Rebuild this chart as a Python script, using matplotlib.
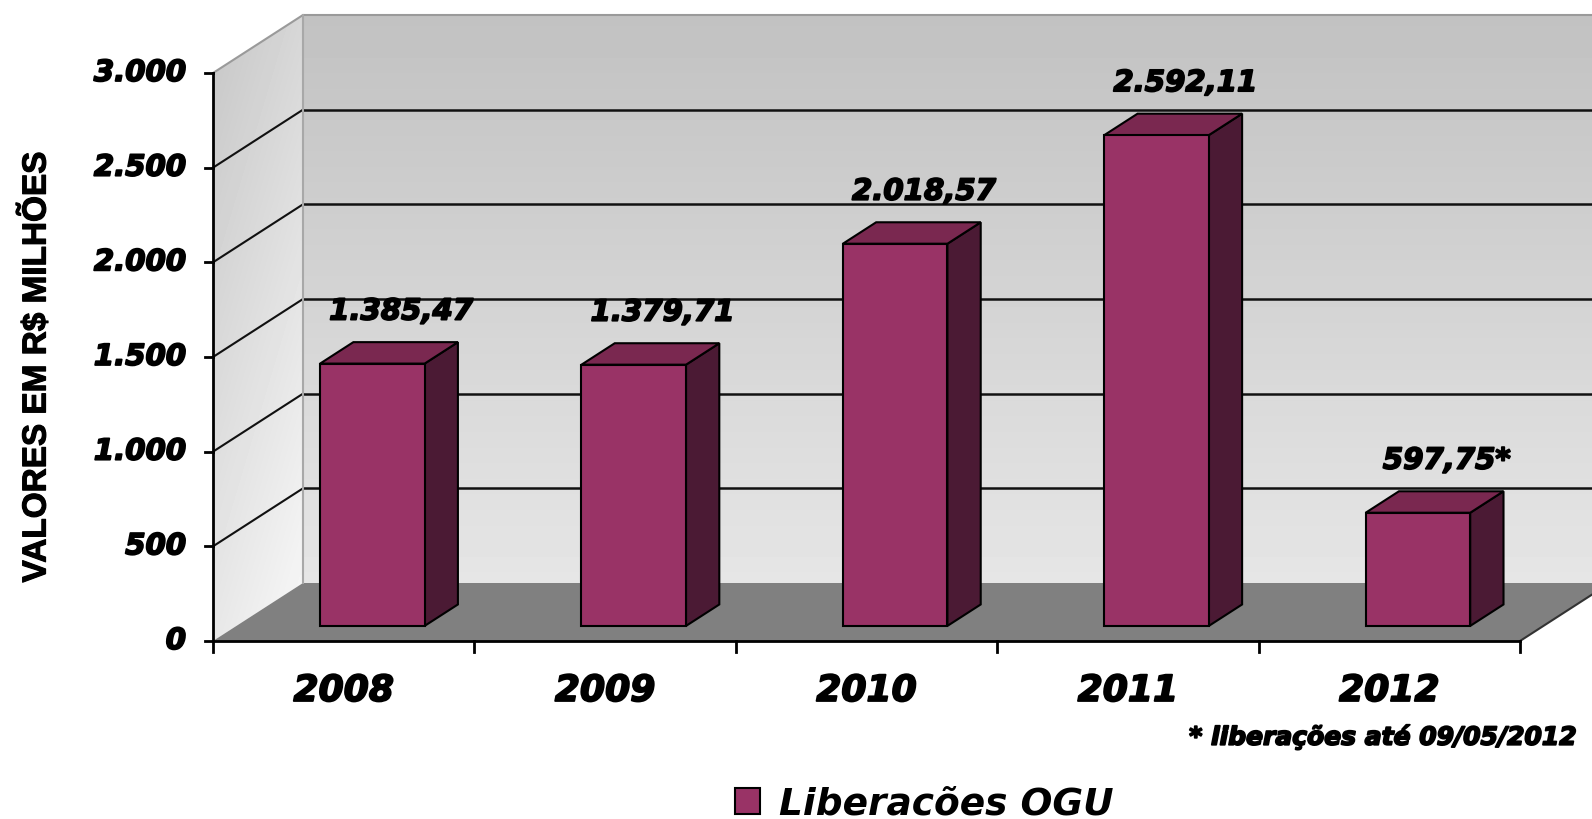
import numpy as np
import matplotlib.pyplot as plt
import matplotlib.patheffects as pe
from matplotlib.patches import Polygon, Patch

years = ['2008', '2009', '2010', '2011', '2012']
values = [1385.47, 1379.71, 2018.57, 2592.11, 597.75]
marks = ['', '', '', '', '*']
yticks = [0, 500, 1000, 1500, 2000, 2500, 3000]
ylabel = 'VALORES EM R$ MILHÕES'
series = 'Liberacões OGU'
note = '* liberações até 09/05/2012'


def br(v, dec=2):
    # brazilian number format: 1.385,47
    s = f'{v:,.{dec}f}'
    return s.replace(',', 'X').replace('.', ',').replace('X', '.')


W, H = 1592, 820
fig = plt.figure(figsize=(W / 100, H / 100), dpi=100)
ax = fig.add_axes([0, 0, 1, 1])
ax.axis('off')

n = len(years)
ymax = yticks[-1]

# front plane: categories 0..n -> px 213..1520, values 0..3000 -> px 178..746 from bottom
x0px, xnpx = 213, 1520
y0px, ytpx = 178, 746
sx = (xnpx - x0px) / n
sy = (ytpx - y0px) / ymax
dx, dy = 90 / sx, 58 / sy   # depth of the 3d box in data units

thick = [pe.withStroke(linewidth=1.3, foreground='black')]
bold_it = dict(family='DejaVu Sans', fontweight='bold', fontstyle='italic', path_effects=thick)


def gradient_fill(verts, img, zorder):
    poly = Polygon(verts, closed=True, facecolor='none', edgecolor='none')
    ax.add_patch(poly)
    xs = [p[0] for p in verts]
    ys = [p[1] for p in verts]
    im = ax.imshow(img, extent=(min(xs), max(xs), min(ys), max(ys)), origin='lower',
                   cmap='gray', vmin=0, vmax=1, aspect='auto',
                   interpolation='bilinear', zorder=zorder)
    im.set_clip_path(poly)


# back wall, darker at the top
back = [(dx, dy), (n + dx, dy), (n + dx, ymax + dy), (dx, ymax + dy)]
gradient_fill(back, np.linspace(0.90, 0.76, 64)[:, None] * np.ones((1, 4)), 0)

# left wall, lighter towards the back
vert = np.linspace(0.91, 0.78, 64)[:, None]
horz = np.linspace(0.0, 0.06, 16)[None, :]
left = [(0, 0), (dx, dy), (dx, ymax + dy), (0, ymax)]
gradient_fill(left, vert + horz, 0)

# floor
ax.add_patch(Polygon([(0, 0), (n, 0), (n + dx, dy), (dx, dy)],
                     facecolor='#808080', edgecolor='none', zorder=1))

# gridlines on both walls
for v in yticks[1:-1]:
    ax.plot([dx, n + dx], [v + dy, v + dy], color='#111111', lw=1.8, zorder=2)
    ax.plot([0, dx], [v, v + dy], color='#111111', lw=1.5, zorder=2)
# wall edges
ax.plot([0, dx, n + dx], [ymax, ymax + dy, ymax + dy], color='#9a9a9a', lw=1.5, zorder=2)
ax.plot([dx, dx], [dy, ymax + dy], color='#a8a8a8', lw=1.5, zorder=2)
ax.plot([n, n + dx], [0, dy], color='#333333', lw=1.5, zorder=2)

# axes
ax.plot([0, 0], [0, ymax], color='black', lw=2, zorder=3)
ax.plot([0, n], [0, 0], color='black', lw=2, zorder=3)
for v in yticks:
    ax.plot([-8 / sx, 0], [v, v], color='black', lw=2, zorder=3)
    ax.text(-27 / sx, v, br(v, 0), ha='right', va='center', fontsize=21, **bold_it)
for i in range(n + 1):
    ax.plot([i, i], [0, -11 / sy], color='black', lw=2, zorder=3)
for i, yr in enumerate(years):
    ax.text(i + 0.5, -50 / sy, yr, ha='center', va='center', fontsize=26, **bold_it)

# bars
face, side_c, top_c = '#993366', '#4b1a34', '#7a2850'
t0, t1 = 0.26, 0.63
bw = 0.40
ddx, ddy = (t1 - t0) * dx, (t1 - t0) * dy
for i, v in enumerate(values):
    L = i + 0.52 - bw / 2 + t0 * dx
    R = L + bw
    b = t0 * dy
    top = b + v
    ax.add_patch(Polygon([(R, b), (R + ddx, b + ddy), (R + ddx, top + ddy), (R, top)],
                         facecolor=side_c, edgecolor='black', lw=1.5, zorder=4))
    ax.add_patch(Polygon([(L, top), (R, top), (R + ddx, top + ddy), (L + ddx, top + ddy)],
                         facecolor=top_c, edgecolor='black', lw=1.5, zorder=4))
    ax.add_patch(Polygon([(L, b), (R, b), (R, top), (L, top)],
                         facecolor=face, edgecolor='black', lw=1.5, zorder=5))
    ax.text(L + bw / 2 + 0.11, top + 52 / sy, br(v) + marks[i],
            ha='center', va='center', fontsize=21, zorder=6, **bold_it)

ax.set_xlim(-x0px / sx, (W - x0px) / sx)
ax.set_ylim(-y0px / sy, (H - y0px) / sy)

fig.text(36 / W, 1 - 368 / H, ylabel, rotation=90, ha='center', va='center',
         fontsize=24, fontweight='bold', family='Liberation Sans',
         path_effects=[pe.withStroke(linewidth=0.8, foreground='black')])
fig.text(1577 / W, 1 - 738 / H, note, ha='right', va='center', fontsize=18, **bold_it)

fig.legend(handles=[Patch(facecolor=face, edgecolor='black', lw=1.5)], labels=[series],
           loc='center', bbox_to_anchor=(924 / W, 15 / H), frameon=False,
           handlelength=0.68, handleheight=0.68, handletextpad=0.5,
           borderpad=0, borderaxespad=0,
           prop=dict(family='DejaVu Sans', style='italic', weight='bold', size=27))

fig.savefig('out.png', dpi=100)
